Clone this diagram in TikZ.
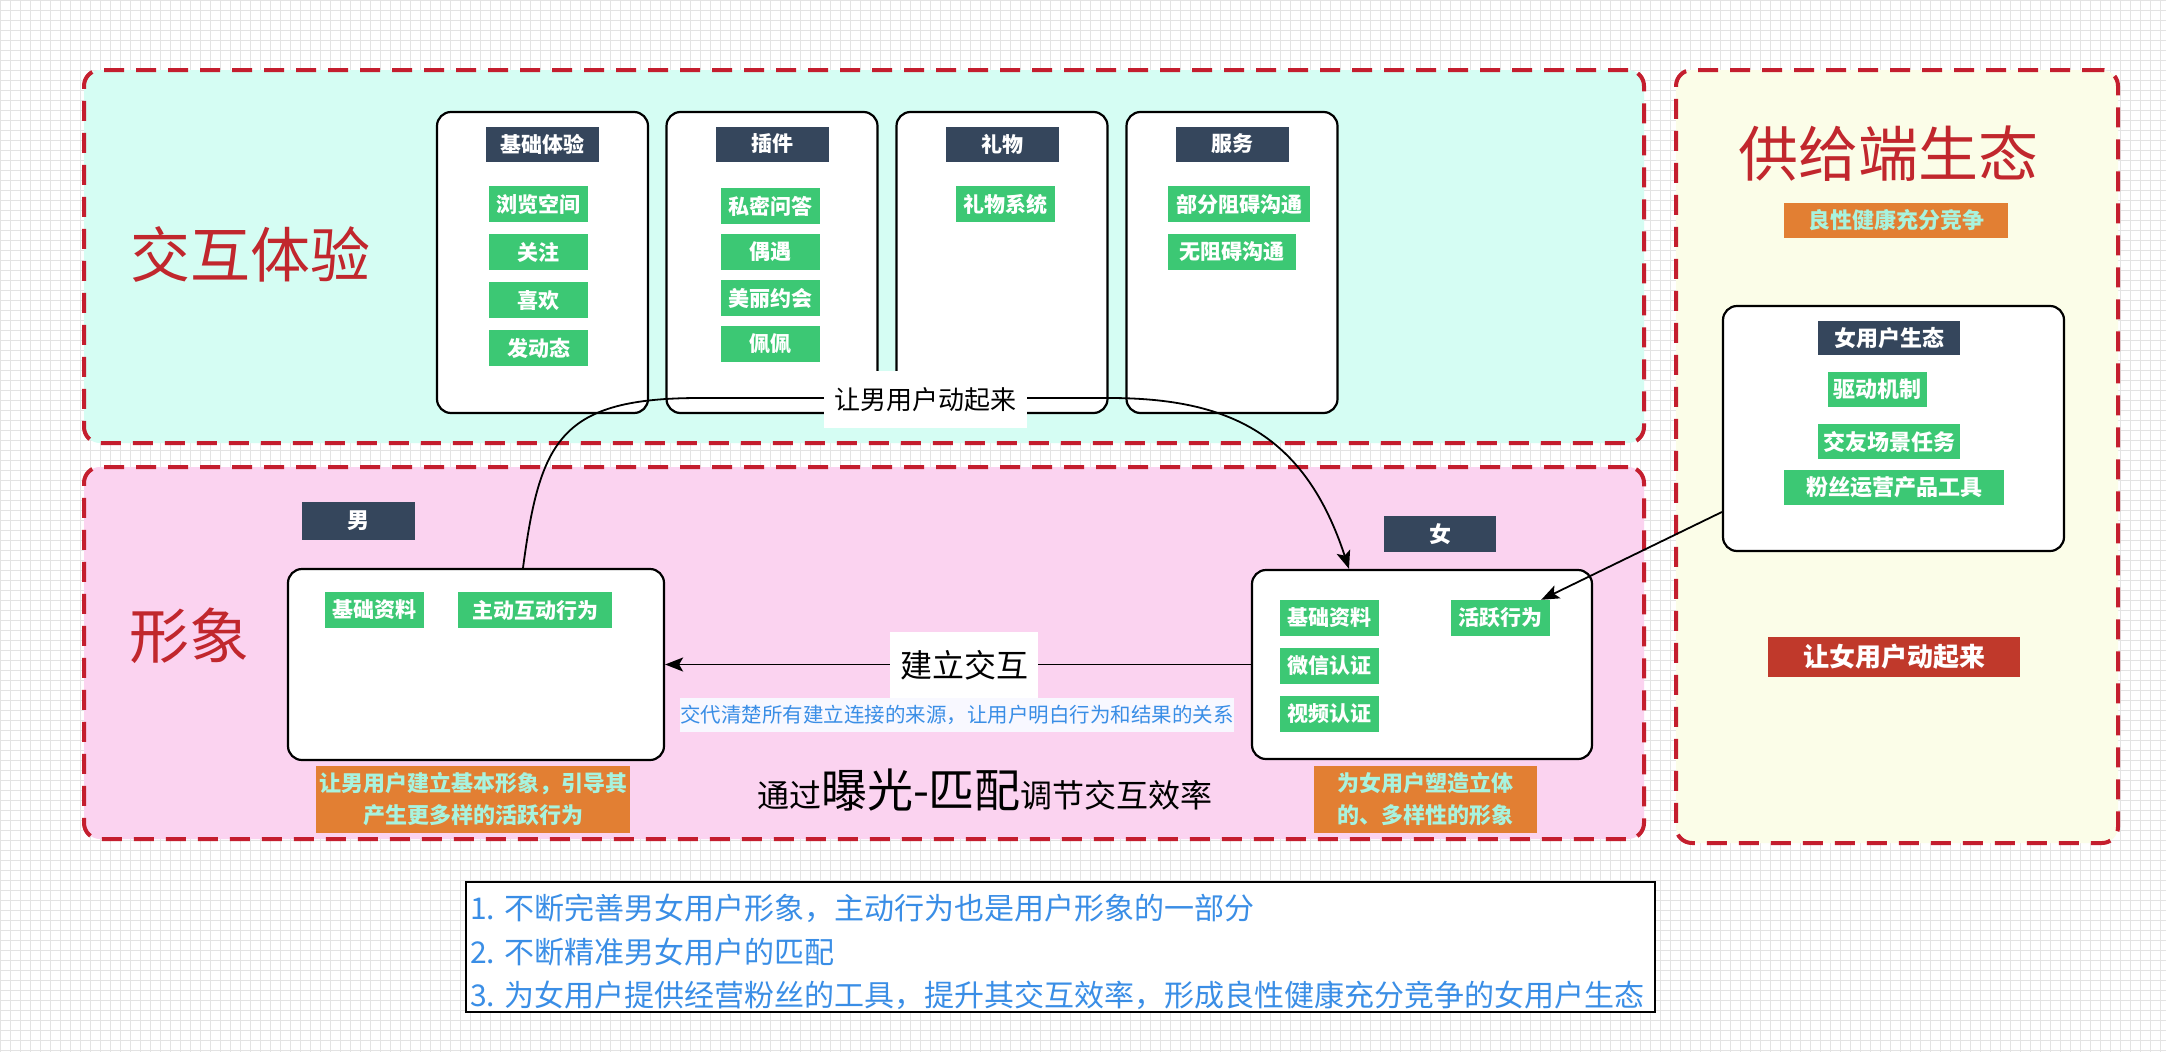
\documentclass[tikz,border=0pt]{standalone}
\usepackage{fontspec}
\setmainfont{Noto Sans CJK SC}
\newfontfamily\song{Noto Sans CJK SC}
\usetikzlibrary{arrows.meta}
\definecolor{mint}{HTML}{D5FDF3}
\definecolor{pinkbg}{HTML}{FBD3F0}
\definecolor{yel}{HTML}{FBFDE8}
\definecolor{dred}{HTML}{C41E2E}
\definecolor{grn}{HTML}{3CC874}
\definecolor{navy}{HTML}{35465C}
\definecolor{org}{HTML}{E27F33}
\definecolor{mintxt}{HTML}{A8F3DE}
\definecolor{rbox}{HTML}{C0392B}
\definecolor{btxt}{HTML}{3A8EE6}
\definecolor{tred}{HTML}{C1272D}
\definecolor{gridc}{HTML}{E3E3E3}
\definecolor{bluebg}{HTML}{F8F8FF}
\tikzset{
 sec/.style={draw=dred, line width=4pt, dash pattern=on 20pt off 12pt, rounded corners=16pt, inner sep=0pt},
 colbox/.style={draw=black, line width=2.2pt, fill=white, rounded corners=14pt, inner sep=0pt},
 hdr/.style={fill=navy, text=white, inner sep=0pt, minimum height=35pt, font=\bfseries\fontsize{21}{24}\selectfont},
 gitem/.style={fill=grn, text=white, inner sep=0pt, minimum height=36pt, font=\bfseries\fontsize{21}{24}\selectfont},
 onote/.style={fill=org, text=mintxt, inner sep=0pt, align=center, font=\bfseries\fontsize{22}{32}\selectfont},
 conn/.style={draw=black, line width=1.8pt, -{Stealth[length=18pt,width=14pt,inset=4pt]}},
 bigtitle/.style={text=tred, font=\song\fontsize{60}{66}\selectfont},
 lbl/.style={fill=white, inner sep=0pt, text=black},
 btline/.style={anchor=west, text=btxt, inner sep=0pt, font=\fontsize{30}{32}\selectfont},
}
\begin{document}
\begin{tikzpicture}[x=1pt,y=-1pt]
\useasboundingbox (0,0) rectangle (2166,1052);
\fill[white] (0,0) rectangle (2166,1052);
\foreach \i in {0,10,...,2160} \draw[gridc,line width=0.8pt] (\i,0) -- (\i,1052);
\foreach \j in {0,10,...,1050} \draw[gridc,line width=0.8pt] (0,\j) -- (2166,\j);

% sections
\node[sec, fill=mint, minimum width=1560pt, minimum height=373pt] (top) at (864,256.5) {};
\node[sec, fill=pinkbg, minimum width=1560pt, minimum height=372pt] (mid) at (864,653) {};
\node[sec, fill=yel, minimum width=442pt, minimum height=773pt] (right) at (1897,456.5) {};

% titles
\node[bigtitle] (t1) at (250,254) {交互体验};
\node[bigtitle] (t2) at (189,636) {形象};
\node[bigtitle] (t3) at (1888,154) {供给端生态};

% column boxes
\node[colbox, minimum width=211pt, minimum height=301pt] (c1) at (542.5,262.5) {};
\node[colbox, minimum width=211pt, minimum height=301pt] (c2) at (772,262.5) {};
\node[colbox, minimum width=211pt, minimum height=301pt] (c3) at (1002,262.5) {};
\node[colbox, minimum width=211pt, minimum height=301pt] (c4) at (1232,262.5) {};

\node[hdr, minimum width=113pt] (h1) at (542,144) {基础体验};
\node[hdr, minimum width=113pt] (h2) at (772,144) {插件};
\node[hdr, minimum width=113pt] (h3) at (1002,144) {礼物};
\node[hdr, minimum width=113pt] (h4) at (1232,144) {服务};

\node[gitem, minimum width=99pt] (a1) at (538.5,204) {浏览空间};
\node[gitem, minimum width=99pt] (a2) at (538.5,252) {关注};
\node[gitem, minimum width=99pt] (a3) at (538.5,300) {喜欢};
\node[gitem, minimum width=99pt] (a4) at (538.5,348) {发动态};

\node[gitem, minimum width=99pt] (b1) at (770.5,206) {私密问答};
\node[gitem, minimum width=99pt] (b2) at (770.5,252) {偶遇};
\node[gitem, minimum width=99pt] (b3) at (770.5,298) {美丽约会};
\node[gitem, minimum width=99pt] (b4) at (770.5,344) {佩佩};

\node[gitem, minimum width=99pt] (g1) at (1005.5,204) {礼物系统};

\node[gitem, minimum width=142pt] (s1) at (1239,204) {部分阻碍沟通};
\node[gitem, minimum width=128pt, anchor=west] (s2) at (1168,252) {无阻碍沟通};

% man / woman
\node[hdr, minimum width=113pt, minimum height=38pt, font=\bfseries\fontsize{22}{24}\selectfont] (mh) at (358.5,521) {男};
\node[colbox, minimum width=376pt, minimum height=191pt] (manbox) at (476,664.5) {};
\node[gitem, minimum width=99pt] (m1) at (374.5,610) {基础资料};
\node[gitem, minimum width=154pt] (m2) at (535,610) {主动互动行为};
\node[onote, minimum width=314pt, minimum height=67pt] (mn) at (473,799.5) {让男用户建立基本形象，引导其\\产生更多样的活跃行为};

\node[hdr, minimum width=112pt, minimum height=36pt, font=\bfseries\fontsize{22}{24}\selectfont] (wh) at (1440,534) {女};
\node[colbox, minimum width=340pt, minimum height=189pt] (womanbox) at (1422,664.5) {};
\node[gitem, minimum width=99pt] (w1) at (1329.5,618) {基础资料};
\node[gitem, minimum width=99pt] (huoyue) at (1500.5,618) {活跃行为};
\node[gitem, minimum width=99pt] (w2) at (1329.5,666) {微信认证};
\node[gitem, minimum width=99pt] (w3) at (1329.5,714) {视频认证};
\node[onote, minimum width=223pt, minimum height=67pt] (wn) at (1425.5,799.5) {为女用户塑造立体\\的、多样性的形象};

% supply side
\node[onote, minimum width=224pt, minimum height=35pt] (y1) at (1896,220.5) {良性健康充分竞争};
\node[colbox, minimum width=341pt, minimum height=245pt] (eco) at (1893.5,428.5) {};
\node[hdr, minimum width=142pt, minimum height=34pt, font=\bfseries\fontsize{22}{24}\selectfont] (eh) at (1889,338) {女用户生态};
\node[gitem, minimum width=99pt, minimum height=35pt, font=\bfseries\fontsize{22}{24}\selectfont] (e1) at (1877.5,389.5) {驱动机制};
\node[gitem, minimum width=142pt, minimum height=35pt, font=\bfseries\fontsize{22}{24}\selectfont] (e2) at (1889,441.5) {交友场景任务};
\node[gitem, minimum width=220pt, minimum height=35pt, font=\bfseries\fontsize{22}{24}\selectfont] (e3) at (1894,487.5) {粉丝运营产品工具};
\node[fill=rbox, text=white, inner sep=0pt, minimum width=252pt, minimum height=40pt, font=\bfseries\fontsize{26}{28}\selectfont] (y2) at (1894,657) {让女用户动起来};

% connectors
\draw[conn] ([xshift=47pt]manbox.north) .. controls (540,440) and (560,398) .. (700,398) -- (1109,398) .. controls (1230,398) and (1305,435) .. ([xshift=-73pt]womanbox.north);
\node[lbl, minimum width=203pt, minimum height=57pt, font=\fontsize{26}{28}\selectfont] (ml) at (925.5,399.5) {让男用户动起来};

\draw[conn] (womanbox.west) -- (manbox.east);
\node[lbl, minimum width=148pt, minimum height=66pt, font=\fontsize{32}{34}\selectfont] (jl) at (964,665) {建立交互};
\node[fill=bluebg, text=btxt, inner sep=0pt, minimum width=552pt, minimum height=34pt, font=\fontsize{20.5}{22}\selectfont] (bl) at (957,715) {交代清楚所有建立连接的来源，让用户明白行为和结果的关系};

\node[inner sep=0pt, font=\song] (pp) at (985,790) {\fontsize{32}{34}\selectfont 通过\fontsize{46}{48}\selectfont 曝光-匹配\fontsize{32}{34}\selectfont 调节交互效率};

\draw[conn] ([yshift=-83.5pt]eco.west) -- ([xshift=-9pt]huoyue.north east);

% bottom notes
\node[draw=black, line width=1.5pt, fill=white, minimum width=1189pt, minimum height=130pt, inner sep=0pt] (nb) at (1060.5,947) {};
\node[btline] (l1) at (470,908) {1. 不断完善男女用户形象，主动行为也是用户形象的一部分};
\node[btline] (l2) at (470,952) {2. 不断精准男女用户的匹配};
\node[btline] (l3) at (470,995) {3. 为女用户提供经营粉丝的工具，提升其交互效率，形成良性健康充分竞争的女用户生态};
\end{tikzpicture}
\end{document}
